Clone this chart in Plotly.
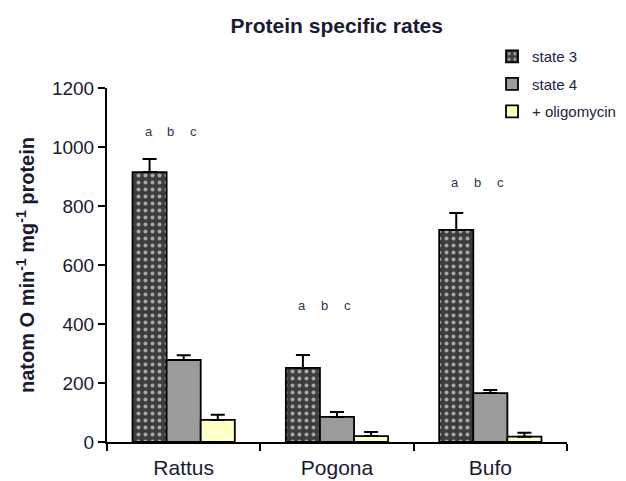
import plotly.graph_objects as go

categories = ["Rattus", "Pogona", "Bufo"]
series_names = ["state 3", "state 4", "+ oligomycin"]

state3 = [915, 251, 719]
state3_err = [44, 44, 57]
state4 = [278, 85, 166]
state4_err = [16, 17, 10]
oligo = [75, 20, 18]
oligo_err = [17, 14, 13]

sig_letters = ["a", "b", "c"]
sig_y = [1051, 464, 878]

y_ticks = [0, 200, 400, 600, 800, 1000, 1200]

FONT = "Liberation Sans, Arial, sans-serif"

fig = go.Figure()

styles = [
    dict(color="#3d3d3d", pattern=dict(shape=".", fillmode="replace", bgcolor="#3d3d3d",
                                        fgcolor="#a8a8a8", size=7, solidity=0.25)),
    dict(color="#9b9b9b"),
    dict(color="#ffffc8"),
]
values = [state3, state4, oligo]
errors = [state3_err, state4_err, oligo_err]

for i, name in enumerate(series_names):
    m = dict(styles[i])
    m["line"] = dict(color="black", width=1.8)
    fig.add_trace(go.Bar(
        x=categories, y=values[i], name=name, marker=m,
        legendgroup=f"g{i}",
        error_y=dict(type="data", symmetric=False, array=errors[i],
                     arrayminus=[0] * len(categories), color="black",
                     thickness=2, width=7),
    ))

letter_shift = [-35, -13, 10]
for ci, cat in enumerate(categories):
    for li, letter in enumerate(sig_letters):
        fig.add_annotation(x=cat, y=sig_y[ci], xref="x", yref="y", text=letter,
                           showarrow=False, xshift=letter_shift[li],
                           font=dict(family=FONT, size=13, color="#333355"))

# page body adds an 8px offset; figure is sized to compensate
fig.update_layout(
    width=618, height=473,
    margin=dict(l=99, r=59, t=80, b=39, autoexpand=False),
    paper_bgcolor="white", plot_bgcolor="white",
    barmode="group", bargap=0.333, bargroupgap=0,
    font=dict(family=FONT, color="black"),
    title=dict(text="<b>Protein specific rates</b>", x=0.532, xanchor="center",
               y=1 - 18 / 473, yanchor="middle", yref="container",
               font=dict(family=FONT, size=21, color="#1a1a33")),
    legend=dict(x=0.837, xanchor="left", y=1.135, yanchor="top",
                font=dict(family=FONT, size=15, color="#222244"),
                bgcolor="rgba(0,0,0,0)", tracegroupgap=5, traceorder="grouped"),
    xaxis=dict(showline=True, linecolor="black", linewidth=2, ticks="outside",
               tickson="boundaries", ticklen=7, tickwidth=2, tickcolor="black",
               automargin=False, ticklabelstandoff=6,
               tickfont=dict(family=FONT, size=21, color="#1a1a33"), showgrid=False),
    yaxis=dict(range=[0, 1200], tickvals=y_ticks, showline=True, linecolor="black",
               linewidth=2, ticks="outside", ticklen=7, tickwidth=2, tickcolor="black",
               automargin=False,
               tickfont=dict(family=FONT, size=19, color="#1a1a33"), showgrid=False,
               zeroline=False,
               title=dict(text="<b>natom O min<sup>-1</sup> mg<sup>-1</sup> protein</b>",
                          font=dict(family=FONT, size=20, color="#1a1a33"), standoff=12)),
)

fig.write_html("out.html")
